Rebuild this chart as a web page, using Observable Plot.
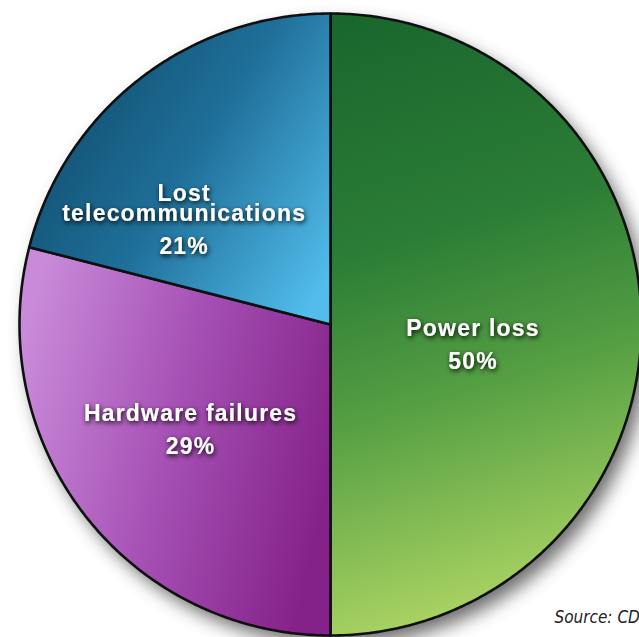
<!DOCTYPE html>
<html><head><meta charset="utf-8">
<script src="https://cdn.jsdelivr.net/npm/d3@7"></script>
<script src="https://cdn.jsdelivr.net/npm/@observablehq/plot@0.6"></script>
<style>
html,body{margin:0;padding:0;background:#fff;overflow:hidden}
#chart{position:relative;width:639px;height:637px;overflow:hidden}
</style>
</head><body><div id="chart"></div>
<script>
// ---- data ----
const categories = ["Power loss", "Hardware failures", "Lost telecommunications"];
const shares = [50, 29, 21];
const labelNames = ["Power loss", "Hardware failures", "Lost\ntelecommunications"];
const sourceNote = "Source: CDW";

// ---- layout / style (not data) ----
const gradientIds = ["gPower", "gHardware", "gTelecom"];
const labelNudge = [[-13, 11], [-17, 1], [-51, 19]]; // px
const R = 311;

const arcs = d3.pie().sort(null).value(d => d)(shares);

function slicePoints(a, i) {
  const pts = [{x: 0, y: 0, cat: categories[i]}];
  const steps = Math.max(2, Math.ceil((a.endAngle - a.startAngle) / (Math.PI / 360)));
  for (let k = 0; k <= steps; k++) {
    const t = a.startAngle + (a.endAngle - a.startAngle) * k / steps;
    pts.push({x: Math.sin(t), y: Math.cos(t), cat: categories[i]});
  }
  pts.push({x: 0, y: 0, cat: categories[i]});
  return pts;
}
const sliceData = arcs.map(slicePoints);
const allPoints = sliceData.flat();

const labels = arcs.map((a, i) => {
  const m = (a.startAngle + a.endAngle) / 2;
  return {
    x: 0.5 * Math.sin(m) + labelNudge[i][0] / R,
    y: 0.5 * Math.cos(m) - labelNudge[i][1] / R,
    name: labelNames[i],
    pct: `${shares[i]}%`
  };
});

const font = "'Liberation Sans', Arial, Helvetica, sans-serif";

const chart = Plot.plot({
  width: 639,
  height: 637,
  margin: 0,
  x: {domain: [-1, 1], range: [19, 641], axis: null},
  y: {domain: [-1, 1], range: [635, 13], axis: null},
  style: {background: "transparent", overflow: "visible"},
  marks: [
    Plot.line(allPoints, {x: "x", y: "y", z: "cat", fill: "#4a4a4a", stroke: "none"}),
    ...sliceData.map((pts, i) => Plot.line(pts, {x: "x", y: "y", fill: `url(#${gradientIds[i]})`, stroke: "#101010", strokeWidth: 2.6, strokeLinejoin: "round"})),
    Plot.text(labels, {x: "x", y: "y", text: "name", lineAnchor: "bottom", lineHeight: 0.84, fontSize: 23, fontWeight: "bold", fill: "white", fontFamily: font}),
    Plot.text(labels, {x: "x", y: "y", text: "pct", lineAnchor: "bottom", dy: 33.5, fontSize: 23, fontWeight: "bold", fill: "white", fontFamily: font}),
    Plot.text([sourceNote], {frameAnchor: "bottom-left", text: d => d, textAnchor: "start", lineAnchor: "bottom", dx: 554, dy: -15, fontSize: 17, fontStyle: "italic", fill: "#222", fontFamily: "'Liberation Sans Narrow', 'DejaVu Sans Condensed', Arial, sans-serif"})
  ]
});

document.getElementById("chart").appendChild(chart);

// gradients + filters
const svg = d3.select(chart);
const defs = svg.append("defs");
function grad(id, x1, y1, x2, y2, stops) {
  const g = defs.append("linearGradient").attr("id", id)
    .attr("x1", x1).attr("y1", y1).attr("x2", x2).attr("y2", y2);
  stops.forEach(([o, c]) => g.append("stop").attr("offset", o).attr("stop-color", c));
}
grad("gPower", 0.1, 0, 0.25, 1, [[0, "#1a672e"], [0.38, "#2c7d36"], [0.64, "#559f43"], [1, "#acd463"]]);
grad("gHardware", 0, 0.3, 1, 0.6, [[0, "#c98ad9"], [0.5, "#a550b4"], [1, "#85228a"]]);
grad("gTelecom", 0, 0.2, 1, 0.85, [[0, "#0e4968"], [0.5, "#1f6f99"], [1, "#52bdec"]]);

const fs = defs.append("filter").attr("id", "pieShadow")
  .attr("x", "-10%").attr("y", "-10%").attr("width", "125%").attr("height", "125%");
fs.append("feGaussianBlur").attr("stdDeviation", 9);

const ft = defs.append("filter").attr("id", "textShadow")
  .attr("x", "-20%").attr("y", "-40%").attr("width", "140%").attr("height", "180%");
ft.append("feDropShadow").attr("dx", 1).attr("dy", 2).attr("stdDeviation", 2.4)
  .attr("flood-color", "#000").attr("flood-opacity", 0.95);

const lineGroups = svg.selectAll('g[aria-label="line"]').nodes();
d3.select(lineGroups[0]).attr("filter", "url(#pieShadow)")
  .attr("transform", "translate(8,10)").attr("opacity", 0.8);
const textGroups = svg.selectAll('g[aria-label="text"]').nodes();
[textGroups[0], textGroups[1]].forEach(g => {
  d3.select(g).attr("filter", "url(#textShadow)").selectAll("text").style("letter-spacing", "1.2px");
});
</script>
</body></html>
